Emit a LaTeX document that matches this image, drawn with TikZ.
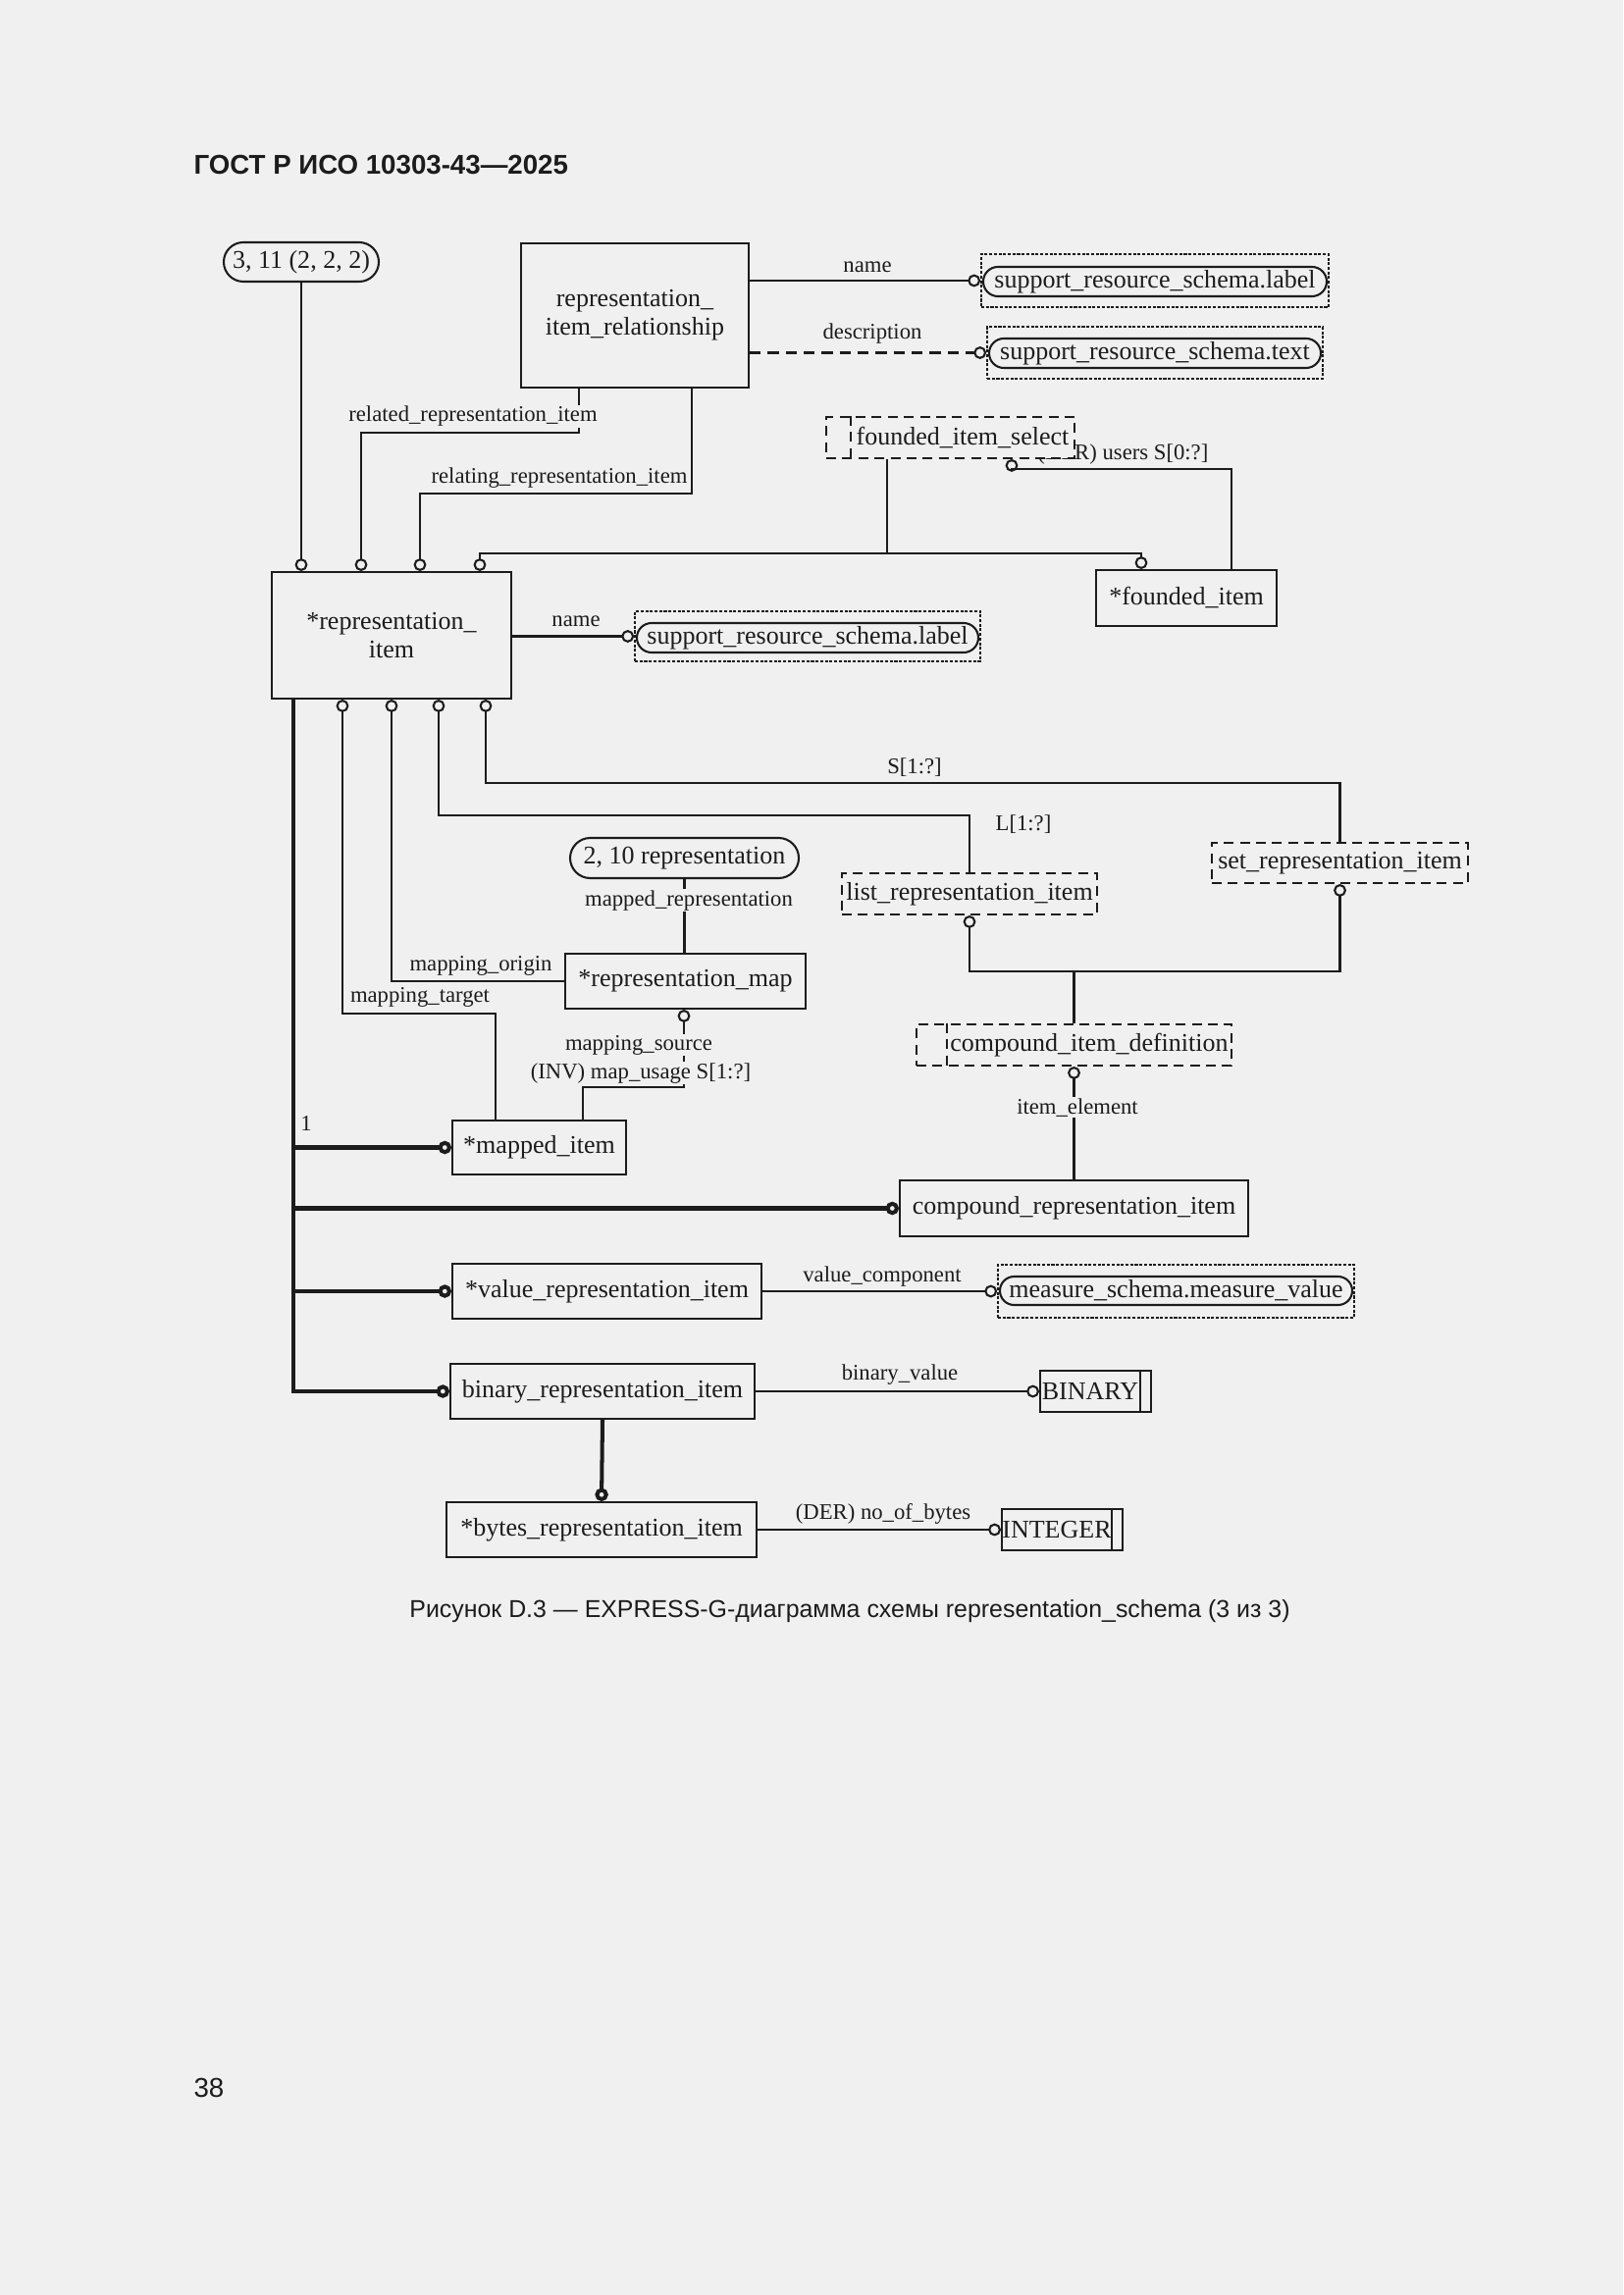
\documentclass[tikz,border=0pt]{standalone}
\usepackage{fontspec}
\setmainfont{Liberation Serif}
\newfontfamily\arialf{Liberation Sans}
\usetikzlibrary{arrows.meta}
\definecolor{bg}{RGB}{240,240,240}
\definecolor{ink}{RGB}{28,28,28}
\newcommand\boxfont{\fontsize{9.4}{10.4}\selectfont}
\newcommand\lblfont{\fontsize{8.2}{9.4}\selectfont}
\pgfdeclarelayer{back}
\pgfdeclarelayer{lines}
\pgfsetlayers{back,lines,main}
\tikzset{
  every node/.style={text=ink, inner sep=0pt},
  bx/.style args={#1/#2/#3/#4}{minimum width={(#3-#1)*0.36bp}, minimum height={(#4-#2)*0.36bp}, at={({(#1+#3)/2},{(#2+#4)/2})}},
  ebox/.style={draw=ink, line width=0.75bp, fill=bg, inner sep=0pt, align=center, font=\boxfont},
  tbox/.style={ebox, dash pattern=on 3.6bp off 2.3bp},
  tline/.style={draw=ink, line width=0.75bp, dash pattern=on 3.6bp off 2.3bp},
  pline/.style={draw=ink, line width=0.75bp},
  dotbox/.style={draw=ink, line width=0.65bp, dash pattern=on 1.1bp off 0.6bp, inner sep=0pt},
  btxt/.style={font=\boxfont},
  lbl/.style={font=\lblfont, fill=bg, inner sep=0.4bp},
  conn/.style={draw=ink, line width=0.75bp},
  rel/.style={conn, -{Circle[open,length=4.6bp,width=4.6bp]}},
  heavy/.style={draw=ink, line width=1.45bp},
  sub/.style={heavy, -{Circle[open,length=4.8bp,width=4.8bp]}},
}
\begin{document}
\begin{tikzpicture}[x=0.36bp,y=-0.36bp]
\begin{pgfonlayer}{back}
\fill[bg] (0,0) rectangle (1654,2339);
\end{pgfonlayer}
\useasboundingbox (0,0) rectangle (1654,2339);

% header, caption, page number
\node[anchor=base west, font=\arialf\bfseries\fontsize{10}{12}\selectfont] (hdr) at (197,178) {ГОСТ Р ИСО 10303-43—2025};
\node[anchor=base, font=\arialf\fontsize{9}{11}\selectfont] (cap) at (866,1648) {Рисунок D.3 — EXPRESS-G-диаграмма схемы representation\_schema (3 из 3)};
\node[anchor=base west, font=\arialf\fontsize{10}{12}\selectfont] (pg) at (197,2137) {38};

% ---------- boxes ----------
\node[ebox, rounded corners=7.2bp, bx=228/247/386/287] (o311) {3, 11 (2, 2, 2)};
\node[ebox, bx=531/248/763/395] (rir) {representation\_\\item\_relationship};
\node[dotbox, bx=1000/259/1354/313] (srsl1) {};
\node[ebox, rounded corners=5.4bp, bx=1002/272/1352/302] (srsl1i) {support\_resource\_schema.label};
\node[dotbox, bx=1006/333/1348/386] (srst) {};
\node[ebox, rounded corners=5.4bp, bx=1008/345/1346/375] (srsti) {support\_resource\_schema.text};

\node[tbox, bx=842/425/1095/467] (fis) {};
\draw[tline] (fis.north -| 867,0) -- (fis.south -| 867,0);
\node[btxt] (fist) at (981,446) {founded\_item\_select};
\node[ebox, bx=1117/581/1301/638] (fi) {*founded\_item};

\node[ebox, bx=277/583/521/712] (ri) {*representation\_\\item};
\node[dotbox, bx=647/623/999/674] (srsl2) {};
\node[ebox, rounded corners=5.4bp, bx=649/635/997/665] (srsl2i) {support\_resource\_schema.label};

\node[ebox, rounded corners=7.4bp, bx=581/854/814/895] (o210) {2, 10 representation};
\node[ebox, bx=576/972/821/1028] (rmap) {*representation\_map};
\node[ebox, bx=461/1142/638/1197] (mi) {*mapped\_item};

\node[tbox, bx=858/890/1118/932] (lri) {list\_representation\_item};
\node[tbox, bx=1235/859/1496/900] (sri) {set\_representation\_item};
\node[tbox, bx=934/1044/1255/1086] (cid) {};
\draw[tline] (cid.north -| 965,0) -- (cid.south -| 965,0);
\node[btxt] (cidt) at (1110,1065) {compound\_item\_definition};
\node[ebox, bx=917/1203/1272/1260] (cri) {compound\_representation\_item};

\node[ebox, bx=461/1288/776/1344] (vri) {*value\_representation\_item};
\node[dotbox, bx=1017/1289/1380/1343] (msr) {};
\node[ebox, rounded corners=5.2bp, bx=1019/1301/1378/1330] (msri) {measure\_schema.measure\_value};

\node[ebox, bx=459/1390/769/1446] (bri) {binary\_representation\_item};
\node[ebox, bx=1060/1397/1173/1439] (bin) {};
\draw[pline] (bin.north -| 1162,0) -- (bin.south -| 1162,0);
\node[btxt] (bint) at (1111,1418) {BINARY};

\node[ebox, bx=455/1531/771/1587] (bytes) {*bytes\_representation\_item};
\node[ebox, bx=1021/1538/1144/1580] (int) {};
\draw[pline] (int.north -| 1133,0) -- (int.south -| 1133,0);
\node[btxt] (intt) at (1077,1559) {INTEGER};

% ---------- connectors ----------
\begin{pgfonlayer}{lines}
\draw[rel] (rir.east |- srsl1.west) -- (srsl1.west);
\draw[rel, dash pattern=on 4bp off 2.6bp] (rir.east |- srst.west) -- (srst.west);
\draw[rel] (o311.south) -- (o311.south |- ri.north);
\draw[rel] (rir.south -| 590,0) -- (590,441) -| (ri.north -| 368,0);
\draw[rel] (rir.south -| 705,0) -- (705,503) -| (ri.north -| 428,0);
\draw[rel] (fis.south -| 904,0) -- (904,564) -| (ri.north -| 489,0);
\draw[rel] (904,564) -| (fi.north -| 1163,0);
\draw[rel] (fi.north -| 1255,0) |- (1031,478) -- (fis.south -| 1031,0);
\draw[rel] (ri.east |- srsl2.west) -- (srsl2.west);

\draw[rel] (sri.north) |- (495,798) -- (ri.south -| 495,0);
\draw[rel] (lri.north) |- (447,831) -- (ri.south -| 447,0);
\draw[rel] (rmap.west) -| (ri.south -| 399,0);
\draw[rel] (mi.north -| 505,0) |- (349,1033) -- (ri.south -| 349,0);

\draw[conn] (o210.south) -- (rmap.north -| o210.south);
\draw[rel] (mi.north -| 594,0) |- (697,1108) -- (rmap.south -| 697,0);

\draw[rel] (cid.north) -- (cid.north |- 0,990) -| (lri.south);
\draw[rel] (cid.north |- 0,990) -| (sri.south);
\draw[rel] (cri.north) -- (cid.south);

\draw[sub] (ri.south -| 299,0) |- (bri.west);
\draw[sub] (mi.west -| 299,0) -- (mi.west);
\draw[sub] (cri.west -| 299,0) -- (cri.west);
\draw[sub] (vri.west -| 299,0) -- (vri.west);
\draw[sub] (bri.south) -- (bytes.north);

\draw[rel] (vri.east) -- (msr.west);
\draw[rel] (bri.east) -- (bin.west);
\draw[rel] (bytes.east) -- (int.west);

% ---------- labels ----------
\node[lbl, anchor=base] (l1) at (884,278) {name};
\node[lbl, anchor=base] (l2) at (889,346) {description};
\node[lbl, anchor=base] (l3) at (482,430) {related\_representation\_item};
\node[lbl, anchor=base] (l4) at (570,493) {relating\_representation\_item};
\node[lbl, anchor=base east] (l5) at (1233,469) {(DER) users S[0:?]};
\node[lbl, anchor=base] (l6) at (587,639) {name};
\node[lbl, anchor=base] (l7) at (932,789) {S[1:?]};
\node[lbl, anchor=base] (l8) at (1043,846) {L[1:?]};
\node[lbl, anchor=base] (l9) at (702,923) {mapped\_representation};
\node[lbl, anchor=base] (l10) at (490,989) {mapping\_origin};
\node[lbl, anchor=base] (l11) at (428,1021) {mapping\_target};
\node[lbl, anchor=base] (l12) at (651,1070) {mapping\_source};
\node[lbl, anchor=base] (l13) at (653,1099) {(INV) map\_usage S[1:?]};
\node[lbl, anchor=base] (l14) at (312,1152) {1};
\node[lbl, anchor=base] (l15) at (1098,1135) {item\_element};
\node[lbl, anchor=base] (l16) at (899,1306) {value\_component};
\node[lbl, anchor=base] (l17) at (917,1406) {binary\_value};
\node[lbl, anchor=base] (l18) at (900,1548) {(DER) no\_of\_bytes};
\end{pgfonlayer}
\end{tikzpicture}
\end{document}
